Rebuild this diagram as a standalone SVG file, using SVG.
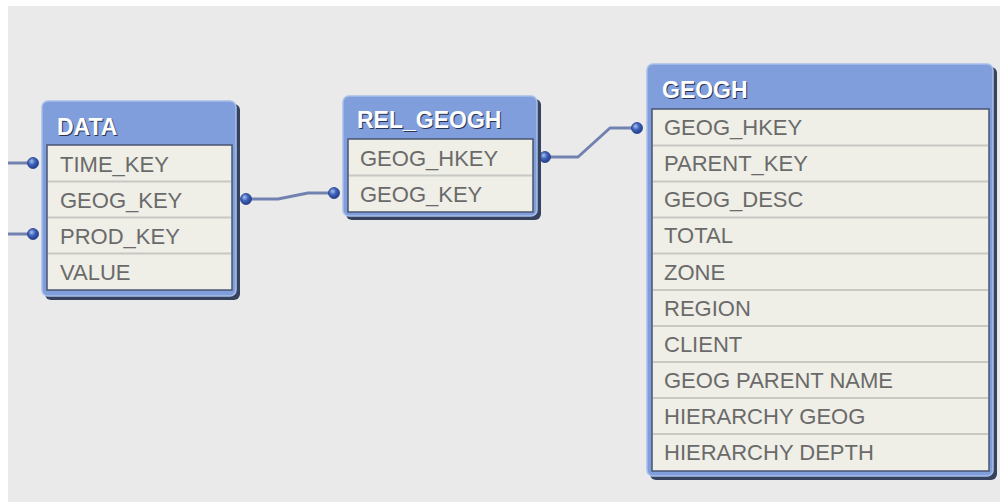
<svg xmlns="http://www.w3.org/2000/svg" width="1000" height="502" viewBox="0 0 1000 502">
<defs>
<style>
.shadow{fill:#36425e}
.frame{fill:#7f9edb;stroke:#a8bfea;stroke-width:1.5}
.body{fill:#efeee7;stroke:#4a5470;stroke-width:1.5}
.sep{stroke:#c8c8c4;stroke-width:2}
.title{font-family:"Liberation Sans",Arial,sans-serif;font-weight:bold;font-size:23px;fill:#ffffff}
.tshadow{font-family:"Liberation Sans",Arial,sans-serif;font-weight:bold;font-size:23px;fill:#2a3350}
.field{font-family:"Liberation Sans",Arial,sans-serif;font-size:22px;fill:#6a6a6a}
.conn{fill:none;stroke:#7282b0;stroke-width:3;stroke-linejoin:round}
.dot{fill:url(#dotg);stroke:#243f8a;stroke-width:0.8}
</style>
<radialGradient id="dotg" cx="0.38" cy="0.35" r="0.7">
<stop offset="0" stop-color="#a9c0f0"/>
<stop offset="0.45" stop-color="#3f63bb"/>
<stop offset="1" stop-color="#1f3a86"/>
</radialGradient>
</defs>
<rect x="0" y="0" width="1000" height="502" fill="#ffffff"/>
<rect x="8" y="6" width="992" height="496" fill="#eaeaea"/>

<g id="connectors">
<path class="conn" d="M8,163 H33"/>
<path class="conn" d="M8,234 H33"/>
<path class="conn" d="M246,199 H278 L308,193 H334"/>
<path class="conn" d="M545,157 H578 L610,128 H637"/>
<circle class="dot" cx="33" cy="163" r="5.5"/>
<circle class="dot" cx="33" cy="234" r="5.5"/>
<circle class="dot" cx="246" cy="199" r="5.5"/>
<circle class="dot" cx="334" cy="193" r="5.5"/>
<circle class="dot" cx="545" cy="157" r="5.5"/>
<circle class="dot" cx="637" cy="128" r="5.5"/>
</g>

<g id="DATA">
<rect class="shadow" x="45" y="104" width="195" height="196" rx="6"/>
<rect class="frame" x="42" y="101" width="194" height="195" rx="6"/>
<rect class="body" x="47" y="145" width="185" height="145"/>
<line class="sep" x1="48" y1="181.5" x2="231" y2="181.5"/>
<line class="sep" x1="48" y1="217.5" x2="231" y2="217.5"/>
<line class="sep" x1="48" y1="253.5" x2="231" y2="253.5"/>
<text class="tshadow" x="58" y="136">DATA</text>
<text class="title" x="57" y="135">DATA</text>
<text class="field" x="60" y="172">TIME_KEY</text>
<text class="field" x="60" y="208">GEOG_KEY</text>
<text class="field" x="60" y="244">PROD_KEY</text>
<text class="field" x="60" y="280">VALUE</text>
</g>

<g id="REL_GEOGH">
<rect class="shadow" x="346" y="99" width="195" height="121" rx="6"/>
<rect class="frame" x="343" y="96" width="194" height="120" rx="6"/>
<rect class="body" x="348" y="139" width="185" height="73"/>
<line class="sep" x1="349" y1="175.5" x2="532" y2="175.5"/>
<text class="tshadow" x="358" y="129">REL_GEOGH</text>
<text class="title" x="357" y="128">REL_GEOGH</text>
<text class="field" x="360" y="166">GEOG_HKEY</text>
<text class="field" x="360" y="202">GEOG_KEY</text>
</g>

<g id="GEOGH">
<rect class="shadow" x="650" y="67" width="347" height="413" rx="6"/>
<rect class="frame" x="647" y="64" width="346" height="412" rx="6"/>
<rect class="body" x="652" y="109" width="337" height="362"/>
<line class="sep" x1="653" y1="145.5" x2="988" y2="145.5"/>
<line class="sep" x1="653" y1="181.5" x2="988" y2="181.5"/>
<line class="sep" x1="653" y1="217.5" x2="988" y2="217.5"/>
<line class="sep" x1="653" y1="253.5" x2="988" y2="253.5"/>
<line class="sep" x1="653" y1="290" x2="988" y2="290"/>
<line class="sep" x1="653" y1="326" x2="988" y2="326"/>
<line class="sep" x1="653" y1="362" x2="988" y2="362"/>
<line class="sep" x1="653" y1="398" x2="988" y2="398"/>
<line class="sep" x1="653" y1="434" x2="988" y2="434"/>
<text class="tshadow" x="663" y="99">GEOGH</text>
<text class="title" x="662" y="98">GEOGH</text>
<text class="field" x="664" y="135">GEOG_HKEY</text>
<text class="field" x="664" y="171">PARENT_KEY</text>
<text class="field" x="664" y="207">GEOG_DESC</text>
<text class="field" x="664" y="243">TOTAL</text>
<text class="field" x="664" y="280">ZONE</text>
<text class="field" x="664" y="316">REGION</text>
<text class="field" x="664" y="352">CLIENT</text>
<text class="field" x="664" y="388">GEOG PARENT NAME</text>
<text class="field" x="664" y="424">HIERARCHY GEOG</text>
<text class="field" x="664" y="460">HIERARCHY DEPTH</text>
</g>
</svg>
